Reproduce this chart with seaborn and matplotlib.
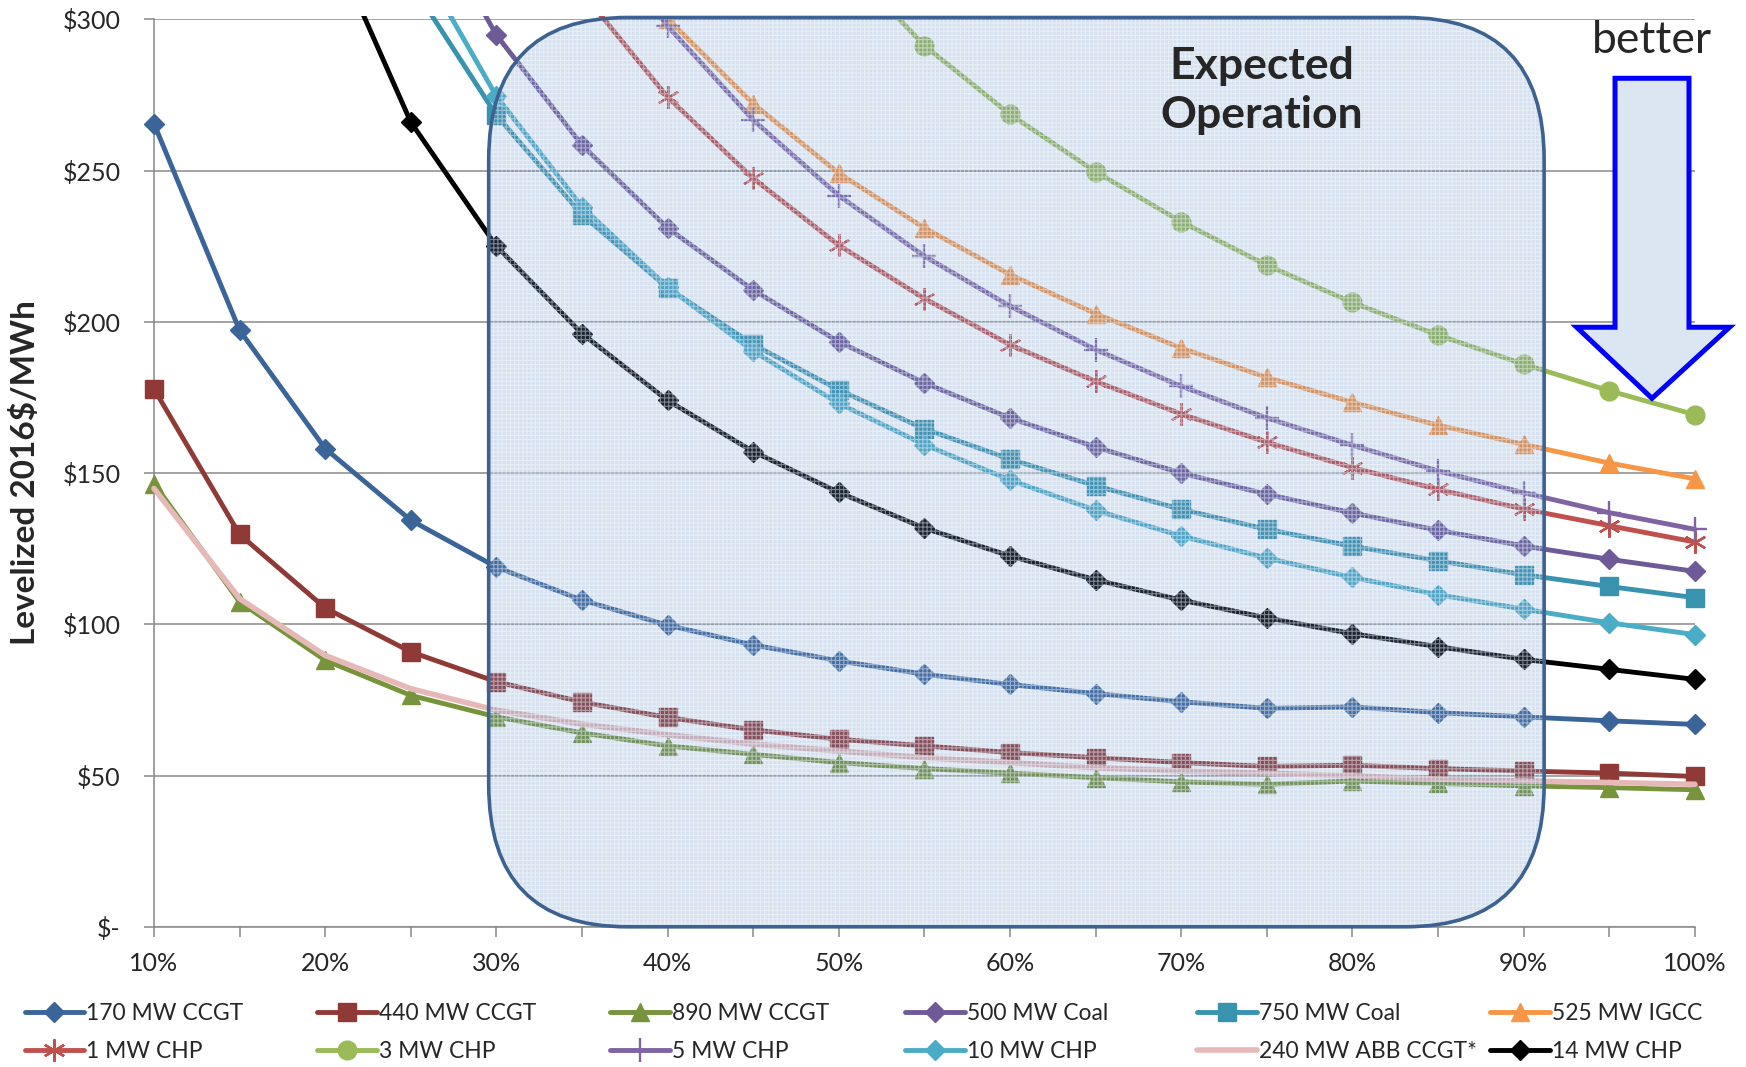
import numpy as np
import pandas as pd
import matplotlib
matplotlib.use("Agg")
import matplotlib.pyplot as plt
from matplotlib.patches import FancyBboxPatch, Polygon, Rectangle
from matplotlib.ticker import FuncFormatter
import seaborn as sns

# Capacity factor (%) on the category axis
capacity_factor = [10, 15, 20, 25, 30, 35, 40, 45, 50, 55, 60, 65, 70, 75, 80, 85, 90, 95, 100]

# Levelized cost of electricity, 2016 $/MWh (None = no point)
ccgt_170 = [265.5, 197.2, 158.1, 134.4, 118.9, 108.0, 99.7, 93.2, 87.9, 83.5, 80.1, 77.1, 74.4, 72.2, 72.7, 70.8, 69.4, 68.1, 66.9]
ccgt_440 = [177.8, 129.7, 105.4, 90.9, 81.0, 74.3, 69.2, 65.1, 62.0, 59.8, 57.6, 55.9, 54.3, 53.0, 53.4, 52.3, 51.5, 50.8, 49.7]
ccgt_890 = [146.5, 107.4, 88.1, 76.5, 69.4, 64.1, 59.8, 57.0, 54.3, 52.3, 50.8, 49.3, 47.9, 47.1, 48.2, 47.4, 46.6, 46.0, 45.3]
coal_500 = [None, None, None, 345.0, 294.8, 258.4, 231.0, 210.5, 193.4, 179.8, 168.2, 158.6, 150.0, 143.0, 136.8, 131.1, 125.9, 121.5, 117.5]
coal_750 = [None, None, None, 312.0, 268.3, 235.4, 211.2, 192.5, 177.5, 164.6, 154.6, 145.8, 138.0, 131.4, 125.8, 121.0, 116.4, 112.5, 108.8]
igcc_525 = [None, None, None, None, None, 338.0, 300.2, 272.1, 249.1, 231.0, 215.6, 202.7, 191.3, 181.6, 173.4, 165.8, 159.5, 153.3, 148.1]
chp_1 = [None, None, None, None, None, 309.0, 274.3, 247.4, 225.3, 207.7, 192.4, 180.3, 169.5, 160.2, 151.8, 144.6, 138.1, 132.6, 127.2]
chp_3 = [None, None, None, None, None, None, None, None, 321.0, 291.3, 268.6, 249.6, 233.1, 218.7, 206.4, 195.6, 186.0, 177.2, 169.3]
chp_5 = [None, None, None, None, None, 335.0, 297.8, 266.7, 241.7, 221.7, 205.2, 190.8, 178.7, 168.2, 159.2, 150.7, 143.5, 136.9, 131.4]
chp_10 = [None, None, None, 324.0, 274.6, 238.0, 211.5, 190.3, 173.0, 159.4, 147.7, 137.7, 129.2, 121.9, 115.5, 109.8, 105.0, 100.5, 96.6]
abb_ccgt_240 = [144.9, 108.5, 89.7, 78.7, 71.6, 67.0, 63.5, 60.4, 58.1, 55.9, 54.3, 52.6, 51.5, 50.8, 49.9, 48.8, 48.2, 47.7, 47.1]
chp_14 = [None, None, 330.0, 266.0, 225.0, 196.1, 174.0, 157.1, 143.6, 131.8, 122.6, 114.7, 108.0, 102.1, 96.9, 92.6, 88.4, 85.1, 81.8]

series_names = ["170 MW CCGT", "440 MW CCGT", "890 MW CCGT", "500 MW Coal", "750 MW Coal",
                "525 MW IGCC", "1 MW CHP", "3 MW CHP", "5 MW CHP", "10 MW CHP",
                "240 MW ABB CCGT*", "14 MW CHP"]
series_values = [ccgt_170, ccgt_440, ccgt_890, coal_500, coal_750, igcc_525,
                 chp_1, chp_3, chp_5, chp_10, abb_ccgt_240, chp_14]

y_ticks = [0, 50, 100, 150, 200, 250, 300]

# style for each series: color, marker, marker size, marker edge width
styles = {
    "170 MW CCGT": ("#3b6499", "D", 10.5, 1.0),
    "440 MW CCGT": ("#8f3a37", "s", 13, 1.0),
    "890 MW CCGT": ("#77933c", "^", 13, 1.0),
    "500 MW Coal": ("#6e5a96", "D", 10.5, 1.0),
    "750 MW Coal": ("#3a93ae", "s", 13.5, 1.0),
    "525 MW IGCC": ("#f79646", "^", 13, 1.0),
    "1 MW CHP": ("#c0504d", (6, 2, 0), 16, 1.7),
    "3 MW CHP": ("#9bbb59", "o", 13.5, 1.0),
    "5 MW CHP": ("#8064a2", "+", 17, 1.7),
    "10 MW CHP": ("#4bacc6", "D", 10.5, 1.0),
    "240 MW ABB CCGT*": ("#e6b9b8", None, 0, 0),
    "14 MW CHP": ("#000000", "D", 10.5, 1.0),
}

records = []
for name, vals in zip(series_names, series_values):
    for cf, v in zip(capacity_factor, vals):
        records.append({"series": name, "cf": cf, "cost": np.nan if v is None else v})
df = pd.DataFrame(records)

sns.set_style("white")
plt.rcParams["font.family"] = ["Lato", "DejaVu Sans"]
plt.rcParams["hatch.linewidth"] = 0.8

W, H = 1746, 1067
fig = plt.figure(figsize=(W / 100, H / 100), dpi=100)
ax_left, ax_right, ax_top, ax_bottom = 154.0, 1694.8, 19.3, 926.8
ax = fig.add_axes([ax_left / W, 1 - ax_bottom / H, (ax_right - ax_left) / W, (ax_bottom - ax_top) / H])

# clip region: full height of the plot, a little wider so end markers stay whole
clip_rect = Rectangle((-0.03, -0.05), 1.06, 1.054, transform=ax.transAxes)

handles = {}
for z, name in enumerate(series_names):
    color, marker, ms, mew = styles[name]
    sub = df[df["series"] == name]
    kw = dict(color=color, linewidth=3.5 if marker is not None else 4.0, zorder=3 + z * 0.01)
    if marker is not None:
        kw.update(marker=marker, markersize=ms, markeredgecolor=color,
                  markerfacecolor=color, markeredgewidth=mew)
    sns.lineplot(data=sub, x="cf", y="cost", estimator=None, sort=False, ax=ax, **kw)
    line = ax.lines[-1]
    line.set_clip_path(clip_rect)
    line.set_label(name)
    handles[name] = line

if ax.get_legend() is not None:
    ax.get_legend().remove()

ax.set_xlim(10, 100)
ax.set_ylim(0, 300)
ax.set_xticks(capacity_factor)
ax.set_xticklabels([f"{c}%" if c % 10 == 0 else "" for c in capacity_factor])
ax.set_yticks(y_ticks)
ax.yaxis.set_major_formatter(FuncFormatter(lambda v, p: "$-" if v == 0 else f"${v:.0f}"))
ax.tick_params(axis="x", bottom=True, length=7, width=1.1, color="#888888", labelsize=18, pad=11)
ax.tick_params(axis="y", left=True, length=7, width=1.1, color="#888888", labelsize=18, pad=17)
ax.set_xlabel("")
ax.set_ylabel("")
ax.yaxis.grid(True, color="#8a8a8a", linewidth=1.1)
ax.xaxis.grid(False)
ax.set_axisbelow(True)
for s in ["top", "right"]:
    ax.spines[s].set_visible(False)
for s in ["left", "bottom"]:
    ax.spines[s].set_color("#888888")
    ax.spines[s].set_linewidth(1.1)

# "Expected Operation" region: translucent blue fill with a fine light grid texture
box_x0, box_x1, box_y0, box_y1 = 29.55, 91.2, 0.0, 300.6
box_fill = FancyBboxPatch((box_x0, box_y0), box_x1 - box_x0, box_y1 - box_y0,
                          boxstyle="round,pad=0,rounding_size=8.1", mutation_aspect=5.8,
                          facecolor=(0.39, 0.55, 0.78, 0.26), edgecolor=(1.0, 1.0, 1.0, 0.45),
                          linewidth=0, hatch="++++", zorder=10, clip_on=False)
ax.add_patch(box_fill)
box_edge = FancyBboxPatch((box_x0, box_y0), box_x1 - box_x0, box_y1 - box_y0,
                          boxstyle="round,pad=0,rounding_size=8.1", mutation_aspect=5.8,
                          facecolor="none", edgecolor="#3d6292", linewidth=2.6,
                          zorder=11, clip_on=False)
ax.add_patch(box_edge)
ax.text(74.7, 276.5, "Expected\nOperation", ha="center", va="center", fontsize=32,
        fontweight="bold", linespacing=1.25, zorder=12)

# "better" arrow
arrow = Polygon([(95.34, 280.5), (99.66, 280.5), (99.66, 198.2), (102.03, 198.2),
                 (97.5, 174.7), (93.1, 198.2), (95.34, 198.2)], closed=True,
                facecolor="#dce6f2", edgecolor="#0000ff", linewidth=3.6, zorder=12,
                clip_on=False, joinstyle="miter")
ax.add_patch(arrow)
ax.text(97.5, 293, "better", ha="center", va="center", fontsize=32, zorder=12, clip_on=False)

fig.text(25 / W, 1 - ((ax_top + ax_bottom) / 2) / H, "Levelized 2016$/MWh", rotation=90,
         ha="center", va="center", fontsize=24, fontweight="bold")

# legend: six columns, two rows
columns = [("170 MW CCGT", "1 MW CHP"), ("440 MW CCGT", "3 MW CHP"), ("890 MW CCGT", "5 MW CHP"),
           ("500 MW Coal", "10 MW CHP"), ("750 MW Coal", "240 MW ABB CCGT*"), ("525 MW IGCC", "14 MW CHP")]
col_x = [24.5, 317.3, 610.2, 905.3, 1197.0, 1490.0]
for cx, pair in zip(col_x, columns):
    fig.legend([handles[n] for n in pair], list(pair), loc="upper left",
               bbox_to_anchor=(cx / W, 1 - 1003 / H), frameon=False, fontsize=16.5,
               handlelength=2.6, handletextpad=0.1, borderpad=0, borderaxespad=0,
               labelspacing=0.75, numpoints=1)

fig.savefig("out.png", dpi=100)
